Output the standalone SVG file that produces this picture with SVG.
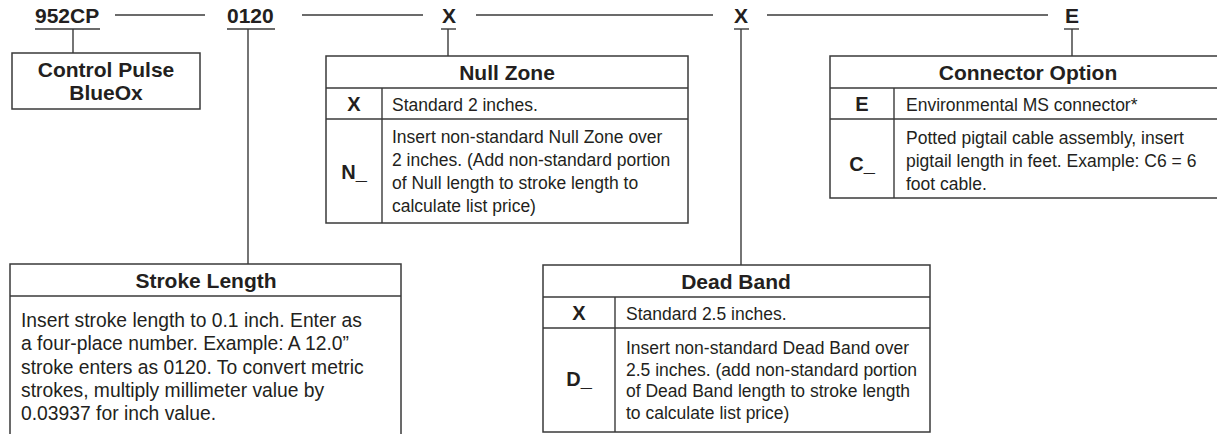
<svg xmlns="http://www.w3.org/2000/svg" width="1217" height="434" viewBox="0 0 1217 434">
<style>
  .ln{stroke:#3a3a3a;stroke-width:1.4;fill:none}
  .box{stroke:#3a3a3a;stroke-width:1.5;fill:#fff}
  .code{font-family:"Liberation Sans",Arial,sans-serif;font-weight:bold;font-size:21px;fill:#231f20}
  .hd{font-family:"Liberation Sans",Arial,sans-serif;font-weight:bold;font-size:21px;fill:#231f20;text-anchor:middle}
  .key{font-family:"Liberation Sans",Arial,sans-serif;font-weight:bold;font-size:20px;fill:#231f20;text-anchor:middle}
  .tx{font-family:"Liberation Sans",Arial,sans-serif;font-size:17.5px;fill:#231f20}
  .tl{font-family:"Liberation Sans",Arial,sans-serif;font-size:19.3px;fill:#231f20}
</style>
<rect width="1217" height="434" fill="#fff"/>
<g id="connectors">
  <line class="ln" x1="115" y1="15" x2="205" y2="15"/>
  <line class="ln" x1="302" y1="15" x2="423" y2="15"/>
  <line class="ln" x1="476" y1="15" x2="713" y2="15"/>
  <line class="ln" x1="767" y1="15" x2="1048" y2="15"/>
  <line class="ln" x1="35" y1="29" x2="100" y2="29"/>
  <line class="ln" x1="227" y1="29" x2="275" y2="29"/>
  <line class="ln" x1="441" y1="29" x2="456" y2="29"/>
  <line class="ln" x1="734" y1="29" x2="749" y2="29"/>
  <line class="ln" x1="1064" y1="29" x2="1079" y2="29"/>
  <line class="ln" x1="73" y1="29" x2="73" y2="53"/>
  <line class="ln" x1="248" y1="29" x2="248" y2="264"/>
  <line class="ln" x1="448" y1="29" x2="448" y2="56"/>
  <line class="ln" x1="741" y1="29" x2="741" y2="265"/>
  <line class="ln" x1="1072" y1="29" x2="1072" y2="56"/>
</g>
<g id="codes">
  <text class="code" x="35" y="23">952CP</text>
  <text class="code" x="227" y="23">0120</text>
  <text class="code" x="442" y="23">X</text>
  <text class="code" x="734" y="23">X</text>
  <text class="code" x="1065" y="23">E</text>
</g>
<g id="control-pulse">
  <rect class="box" x="12" y="53" width="188" height="56"/>
  <text class="hd" x="106" y="77">Control Pulse</text>
  <text class="hd" x="106" y="100">BlueOx</text>
</g>
<g id="null-zone">
  <rect class="box" x="326" y="56" width="362" height="167"/>
  <line class="ln" x1="326" y1="88" x2="688" y2="88"/>
  <line class="ln" x1="326" y1="119" x2="688" y2="119"/>
  <line class="ln" x1="382" y1="88" x2="382" y2="223"/>
  <text class="hd" x="507" y="80">Null Zone</text>
  <text class="key" x="354" y="111">X</text>
  <text class="tx" x="392" y="111">Standard 2 inches.</text>
  <text class="key" x="354" y="179">N_</text>
  <text class="tx" x="392" y="143">Insert non-standard Null Zone over</text>
  <text class="tx" x="392" y="166">2 inches. (Add non-standard portion</text>
  <text class="tx" x="392" y="189">of Null length to stroke length to</text>
  <text class="tx" x="392" y="212">calculate list price)</text>
</g>
<g id="connector-option">
  <rect class="box" x="830" y="56" width="396" height="142"/>
  <line class="ln" x1="830" y1="88" x2="1217" y2="88"/>
  <line class="ln" x1="830" y1="119" x2="1217" y2="119"/>
  <line class="ln" x1="894" y1="88" x2="894" y2="198"/>
  <text class="hd" x="1028" y="80">Connector Option</text>
  <text class="key" x="862" y="111">E</text>
  <text class="tx" x="906" y="111">Environmental MS connector*</text>
  <text class="key" x="862" y="171">C_</text>
  <text class="tx" x="906" y="144">Potted pigtail cable assembly, insert</text>
  <text class="tx" x="906" y="167">pigtail length in feet. Example: C6 = 6</text>
  <text class="tx" x="906" y="190">foot cable.</text>
</g>
<g id="stroke-length">
  <rect class="box" x="10" y="264" width="391" height="190"/>
  <line class="ln" x1="10" y1="296" x2="401" y2="296"/>
  <text class="hd" x="206" y="288">Stroke Length</text>
  <text class="tl" x="21" y="327">Insert stroke length to 0.1 inch. Enter as</text>
  <text class="tl" x="21" y="350">a four-place number. Example: A 12.0”</text>
  <text class="tl" x="21" y="374">stroke enters as 0120. To convert metric</text>
  <text class="tl" x="21" y="397">strokes, multiply millimeter value by</text>
  <text class="tl" x="21" y="420">0.03937 for inch value.</text>
</g>
<g id="dead-band">
  <rect class="box" x="543" y="265" width="387" height="167"/>
  <line class="ln" x1="543" y1="297" x2="930" y2="297"/>
  <line class="ln" x1="543" y1="328" x2="930" y2="328"/>
  <line class="ln" x1="615" y1="297" x2="615" y2="432"/>
  <text class="hd" x="736" y="289">Dead Band</text>
  <text class="key" x="579" y="320">X</text>
  <text class="tx" x="626" y="320">Standard 2.5 inches.</text>
  <text class="key" x="579" y="386">D_</text>
  <text class="tx" x="626" y="354">Insert non-standard Dead Band over</text>
  <text class="tx" x="626" y="376">2.5 inches. (add non-standard portion</text>
  <text class="tx" x="626" y="397">of Dead Band length to stroke length</text>
  <text class="tx" x="626" y="419">to calculate list price)</text>
</g>
</svg>
